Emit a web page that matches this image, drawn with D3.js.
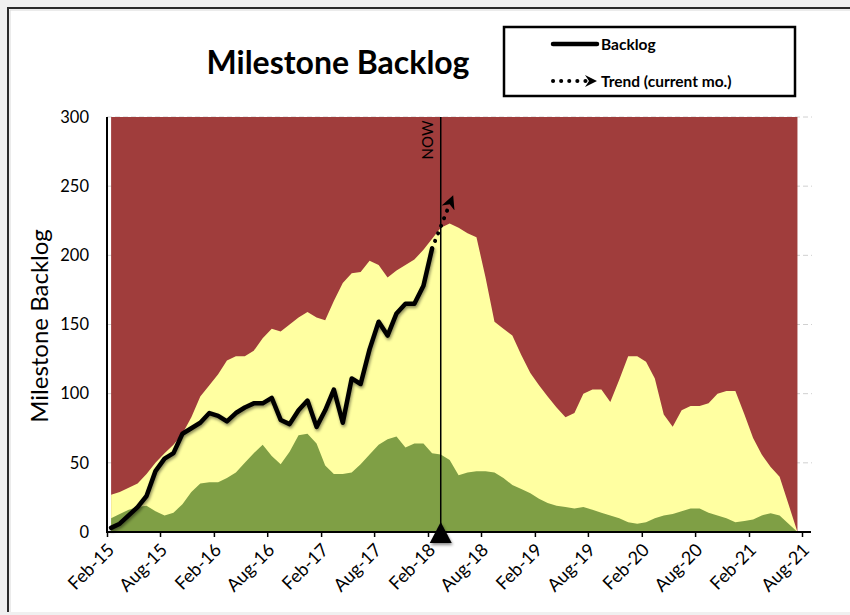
<!DOCTYPE html>
<html><head><meta charset="utf-8">
<script src="https://cdn.jsdelivr.net/npm/d3@7"></script>
<style>
html,body{margin:0;padding:0;background:#f0f0f0;}
svg{display:block;}
text{font-family:Lato,"Liberation Sans",sans-serif;fill:#000;}
</style></head><body>
<svg id="c" width="850" height="615"></svg>
<script>
// ---------- data ----------
const startMonth = "2015-02";          // first monthly category (Feb-15)
const monthCount = 78;                  // Feb-15 .. Jul-21
const tickLabels = ["Feb-15","Aug-15","Feb-16","Aug-16","Feb-17","Aug-17","Feb-18",
                    "Aug-18","Feb-19","Aug-19","Feb-20","Aug-20","Feb-21","Aug-21"];
const yTicks = [0,50,100,150,200,250,300];
const ceiling = 300;                    // red band top
const upperBand = [27,29,32,35,42,50,57,63,71,83,
                   98,106,114,124,127,127,131,140,147,145,
                   150,155,159,155,153,167,180,187,188,196,
                   193,184,189,193,197,204,212,220,223,220,
                   216,213,184,152,147,142,128,115,106,98,
                   90,83,86,100,103,103,94,110,127,127,
                   123,111,85,76,88,91,91,93,100,102,
                   102,85,68,56,47,40,20,0];
const lowerBand = [10,13,16,18,19,15,12,14,20,29,
                   35,36,36,39,43,50,57,63,55,49,
                   58,70,71,64,48,42,42,43,49,56,
                   63,67,69,61,64,64,57,56,52,41,
                   43,44,44,43,39,34,31,28,24,21,
                   19,18,17,18,16,14,12,10,7,6,
                   7,10,12,13,15,17,17,14,12,10,
                   7,8,9,12,13.5,12,6,0];
const backlog = [3,6,12,18,26,44,53,57,71,75,
                 79,86,84,80,86,90,93,93,97,81,
                 78,88,95,76,88,103,79,111,107,132,
                 152,142,158,165,165,178,205];
const trendMonths = [36,38];
const trendValues = [205,237];
const nowMonth = 37;

// ---------- setup ----------
const svg = d3.select("#c");
const parse = d3.timeParse("%Y-%m");
const t0 = parse(startMonth);
const monthStart = i => d3.timeMonth.offset(t0, i);
const mid = i => new Date((+monthStart(i) + +monthStart(i+1)) / 2);

const x = d3.scaleTime().domain([t0, monthStart(78)]).range([107, 802]);
const y = d3.scaleLinear().domain([0, 300]).range([532, 117]);

const defs = svg.append("defs");
const f = defs.append("filter").attr("id","sh").attr("x","-20%").attr("y","-20%").attr("width","140%").attr("height","140%");
f.append("feDropShadow").attr("dx",1).attr("dy",2).attr("stdDeviation",1.6).attr("flood-color","#000").attr("flood-opacity",0.45);
defs.append("marker").attr("id","arr").attr("viewBox","0 0 10 10").attr("refX",3).attr("refY",5)
  .attr("markerWidth",3.4).attr("markerHeight",3.4).attr("orient","auto").attr("markerUnits","strokeWidth")
  .append("path").attr("d","M0,0 L10,5 L0,10 L3,5 Z").attr("fill","#000");

// frame
svg.append("rect").attr("x",8).attr("y",8).attr("width",850).attr("height",604).attr("fill","#fff");
svg.append("path").attr("d","M8,612 L8,8 L850,8").attr("fill","none").attr("stroke","#2b2b2b").attr("stroke-width",2);
svg.append("path").attr("d","M10,612 L10,10 L850,10").attr("fill","none").attr("stroke","#d8d8d8").attr("stroke-width",1);

// gridlines
svg.append("g").selectAll("line").data(yTicks.filter(v=>v>0)).join("line")
  .attr("x1",107).attr("x2",812).attr("y1",d=>y(d)).attr("y2",d=>y(d))
  .attr("stroke","#d0d0d0").attr("stroke-width",1).attr("stroke-dasharray","5,3");

const idx = d3.range(monthCount);
// red band
svg.append("path").datum(idx)
  .attr("d", d3.area().x(i=>x(mid(i))).y0(y(0)).y1(y(ceiling))).attr("fill","#A03D3C");
// yellow
svg.append("path").datum(idx)
  .attr("d", d3.area().x(i=>x(mid(i))).y0(y(0)).y1(i=>y(upperBand[i]))).attr("fill","#FFFFA1");
// green
svg.append("path").datum(idx)
  .attr("d", d3.area().x(i=>x(mid(i))).y0(y(0)).y1(i=>y(lowerBand[i]))).attr("fill","#7F9F45");

// backlog line
svg.append("path").datum(backlog)
  .attr("d", d3.line().x((d,i)=>x(mid(i))).y(d=>y(d)))
  .attr("fill","none").attr("stroke","#000").attr("stroke-width",4.5)
  .attr("stroke-linejoin","round").attr("stroke-linecap","round").attr("filter","url(#sh)");

// trend
svg.append("path").datum(trendValues)
  .attr("d", d3.line().x((d,i)=>x(mid(trendMonths[i]))).y(d=>y(d)))
  .attr("fill","none").attr("stroke","#000").attr("stroke-width",4)
  .attr("stroke-linecap","round").attr("stroke-dasharray","0.1,8")
  .attr("marker-end","url(#arr)");

// NOW line
const nx = x(mid(nowMonth));
svg.append("line").attr("x1",nx).attr("x2",nx).attr("y1",y(300)).attr("y2",y(0))
  .attr("stroke","#000").attr("stroke-width",1.5);
svg.append("text").attr("transform",`translate(${nx-8},140) rotate(-90)`)
  .attr("text-anchor","middle").attr("font-size",15).text("NOW");

// axes
const xa = svg.append("g").attr("transform",`translate(0,${y(0)})`)
  .call(d3.axisBottom(x).tickValues(d3.range(0,79,6).map(monthStart)).tickFormat((d,i)=>tickLabels[i]).tickSize(5).tickSizeOuter(0));
xa.select(".domain").remove();
xa.selectAll(".tick line").attr("stroke","#000").attr("stroke-width",1.5);
xa.selectAll(".tick text").attr("font-size",18).attr("text-anchor","end")
  .attr("dy",0).attr("y",0).attr("transform","translate(8,19) rotate(-45)");
svg.append("line").attr("x1",106).attr("x2",811).attr("y1",y(0)).attr("y2",y(0)).attr("stroke","#000").attr("stroke-width",2);

const ya = svg.append("g").attr("transform","translate(107,0)")
  .call(d3.axisLeft(y).tickValues(yTicks).tickSize(0).tickPadding(18));
ya.select(".domain").remove();
ya.selectAll(".tick text").attr("font-size",16.5);
svg.append("line").attr("x1",107).attr("x2",107).attr("y1",y(300)).attr("y2",y(0)+1).attr("stroke","#000").attr("stroke-width",2);

// NOW triangle
svg.append("path").attr("transform",`translate(${nx},536)`)
  .attr("d","M-11,7 L0,-14 L11,7 Z").attr("fill","#000").attr("filter","url(#sh)");

// titles
svg.append("text").attr("x",338).attr("y",74).attr("text-anchor","middle")
  .attr("font-size",32).attr("font-weight","bold").text("Milestone Backlog");
svg.append("text").attr("transform","translate(48,326) rotate(-90)").attr("text-anchor","middle")
  .attr("font-size",24).text("Milestone Backlog");

// legend
const lg = svg.append("g");
lg.append("rect").attr("x",504).attr("y",27).attr("width",291).attr("height",69)
  .attr("fill","#fff").attr("stroke","#000").attr("stroke-width",2.5);
lg.append("line").attr("x1",553).attr("x2",597).attr("y1",44).attr("y2",44).attr("stroke","#000").attr("stroke-width",4.5).attr("stroke-linecap","round");
lg.append("text").attr("x",601).attr("y",49.5).attr("font-size",15.5).attr("font-weight","bold").text("Backlog");
lg.append("line").attr("x1",553).attr("x2",586).attr("y1",81).attr("y2",81).attr("stroke","#000").attr("stroke-width",4)
  .attr("stroke-linecap","round").attr("stroke-dasharray","0.1,8");
lg.append("path").attr("d","M585,75 L597,81 L585,87 L589,81 Z").attr("fill","#000");
lg.append("text").attr("x",601).attr("y",87).attr("font-size",15.5).attr("font-weight","bold").text("Trend (current mo.)");
</script>
</body></html>
